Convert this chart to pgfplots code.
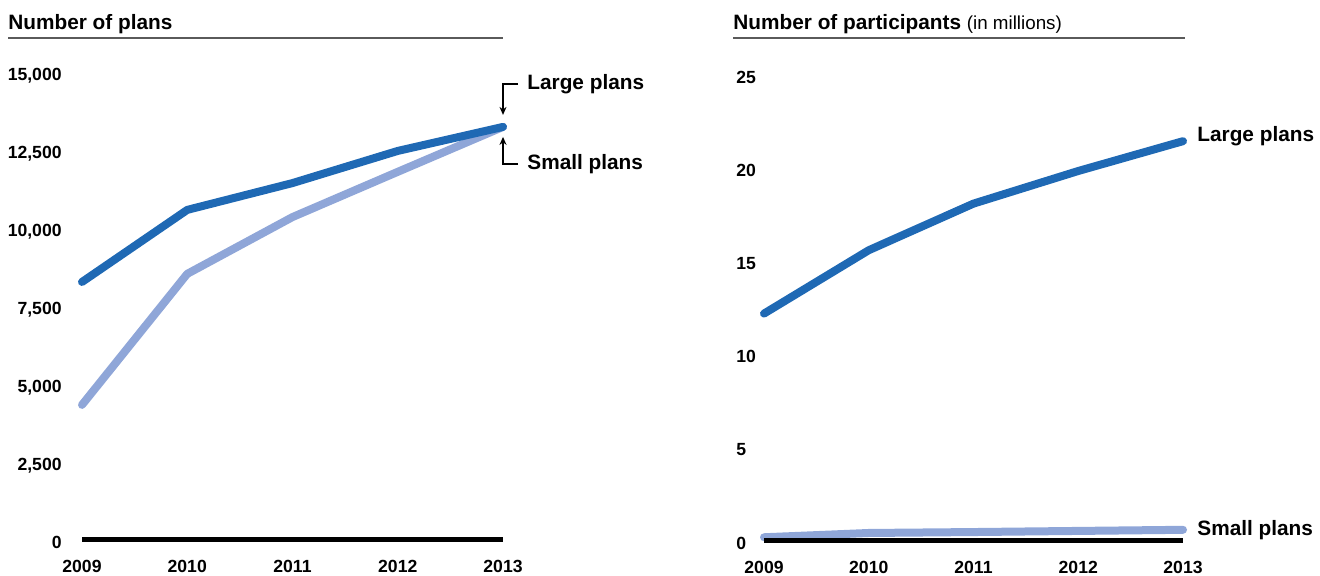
\documentclass[border=0pt]{standalone}
\usepackage{fontspec}
\setmainfont{Liberation Sans}
\usepackage{pgfplots}
\pgfplotsset{compat=1.18}
\usetikzlibrary{arrows.meta}

\definecolor{largeblue}{RGB}{31,105,180}
\definecolor{smallblue}{RGB}{143,166,216}
\definecolor{rulegray}{RGB}{90,90,90}

\tikzset{lbl/.style={font=\fontsize{10.4}{12}\selectfont\bfseries, inner sep=0pt}}

\pgfplotsset{
  panel/.style={
    scale only axis, clip=false,
    anchor=south west,
    axis line style={draw=none},
    tick style={draw=none},
    scaled y ticks=false,
    xmin=2009, xmax=2013, ymin=0,
    xtick={2009,2010,2011,2012,2013},
    xticklabels={2009,2010,2011,2012,2013},
    ticklabel style={font=\fontsize{8.8}{10}\selectfont\bfseries},
    xticklabel style={anchor=base, yshift=-16.5pt},
  },
  series/.style={line width=4pt, line cap=round, line join=round, no markers},
  base/.style={black, line width=2.5pt, line cap=butt, no markers},
}

\begin{document}
\begin{tikzpicture}
\useasboundingbox (0,0) rectangle (660pt,288pt);

% left panel: number of plans
\begin{axis}[panel,
    at={(41pt,18pt)}, width=210.5pt, height=234pt,
    ymax=15000,
    ytick={0,2500,5000,7500,10000,12500,15000},
    yticklabels={0,{2,500},{5,000},{7,500},{10,000},{12,500},{15,000}},
    yticklabel style={anchor=east, inner sep=0pt, text depth=0pt, xshift=-10pt, yshift=-1pt},
]
\addplot[base] coordinates {(2009,0) (2013,0)};
\addplot[series, smallblue] coordinates {
  (2009,4330) (2010,8530) (2011,10350) (2012,11800) (2013,13240)};
\addplot[series, largeblue] coordinates {
  (2009,8270) (2010,10580) (2011,11440) (2012,12470) (2013,13240)};

\node[lbl, anchor=west] at ([xshift=12pt, yshift=21.5pt]axis cs:2013,13240) {Large plans};
\node[lbl, anchor=west] at ([xshift=12pt, yshift=-18.5pt]axis cs:2013,13240) {Small plans};
\draw[line width=0.6pt, -{Stealth[length=4pt, width=3.5pt]}]
  ([xshift=7.5pt, yshift=21.5pt]axis cs:2013,13240) -- ([yshift=21.5pt]axis cs:2013,13240)
  -- ([yshift=6pt]axis cs:2013,13240);
\draw[line width=0.6pt, -{Stealth[length=4pt, width=3.5pt]}]
  ([xshift=7.5pt, yshift=-18.5pt]axis cs:2013,13240) -- ([yshift=-18.5pt]axis cs:2013,13240)
  -- ([yshift=-5pt]axis cs:2013,13240);
\end{axis}

% right panel: number of participants
\begin{axis}[panel,
    at={(382pt,17.5pt)}, width=209.5pt, height=233pt,
    ymax=25,
    ytick={0,5,10,15,20,25},
    yticklabels={0,5,10,15,20,25},
    yticklabel style={anchor=west, inner sep=0pt, text depth=0pt, xshift=-14pt, yshift=-1pt},
]
\addplot[series, smallblue] coordinates {
  (2009,0.2) (2010,0.43) (2011,0.48) (2012,0.54) (2013,0.6)};
\addplot[base] coordinates {(2009,0) (2013,0)};
\addplot[series, largeblue] coordinates {
  (2009,12.2) (2010,15.6) (2011,18.1) (2012,19.85) (2013,21.45)};

\node[lbl, anchor=west] at ([xshift=7pt, yshift=2.5pt]axis cs:2013,21.45) {Large plans};
\node[lbl, anchor=west] at ([xshift=7pt]axis cs:2013,0.6) {Small plans};
\end{axis}

% panel titles with rules
\node[lbl, anchor=base west] at (4pt,273pt) {Number of plans};
\draw[rulegray, line width=0.7pt] (4pt,269pt) -- (251.5pt,269pt);
\node[lbl, anchor=base west] at (366.5pt,273pt)
  {Number of participants {\mdseries\fontsize{9.4}{11}\selectfont (in millions)}};
\draw[rulegray, line width=0.7pt] (366.5pt,269pt) -- (592.5pt,269pt);
\end{tikzpicture}
\end{document}
